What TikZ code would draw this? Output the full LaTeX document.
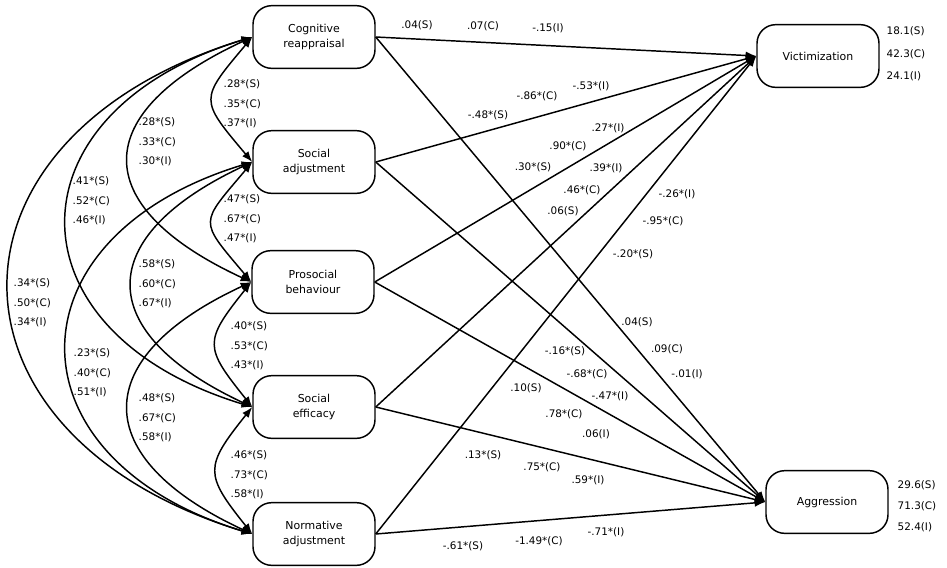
\documentclass[tikz,border=0pt]{standalone}
\usepackage{fontspec}
\setmainfont{DejaVu Sans}
\usetikzlibrary{arrows.meta}

\begin{document}
\begin{tikzpicture}[x=0.75pt, y=-0.75pt, >={Latex[length=8pt,width=6pt]}, line width=1.1pt]
				\tikzstyle{factor} = [draw=black, rounded corners=14pt, minimum width=91.5pt, minimum height=47pt, align=center, font=\fontsize{8.2}{11.3}\selectfont]
				\tikzstyle{invis} = [draw=none, inner sep=0pt, font=\fontsize{7.8}{14.6}\selectfont]
				
				\useasboundingbox (0,0) rectangle (947,568);
				
				\node[factor] 	at (314, 37) 	(cog) 	{Cognitive\\reappraisal};
				\node[factor] 	at (314, 162) 	(socadj) 	{Social\\adjustment};
				\node[factor] 	at (313, 282) 	(prosoc) 	{Prosocial\\behaviour};
				\node[factor] 	at (314, 407) 	(soceff) 	{Social\\efficacy};
				\node[factor] 	at (314, 534) 	(norm) 	{Normative\\adjustment};
				\node[factor] 	at (818, 56) 	(vict) 	{Victimization};
				\node[factor] 	at (827, 502) 	(aggr) 	{Aggression};
				
				% covariances
				\draw[<->] (cog.west) .. controls +(-53,63) and +(-53,-63) .. (socadj.west);
				\draw[<->] (socadj.west) .. controls +(-53,63) and +(-53,-63) .. (prosoc.west);
				\draw[<->] (prosoc.west) .. controls +(-48,60) and +(-48,-60) .. (soceff.west);
				\draw[<->] (soceff.west) .. controls +(-48,60) and +(-48,-60) .. (norm.west);
				\draw[<->] (cog.west) .. controls +(-164,76) and +(-164,-76) .. (prosoc.west);
				\draw[<->] (socadj.west) .. controls +(-160,75) and +(-160,-75) .. (soceff.west);
				\draw[<->] (prosoc.west) .. controls +(-164,76) and +(-164,-76) .. (norm.west);
				\draw[<->] (cog.west) .. controls +(-247,75) and +(-247,-75) .. (soceff.west);
				\draw[<->] (socadj.west) .. controls +(-247,75) and +(-247,-75) .. (norm.west);
				\draw[<->] (cog.west) .. controls +(-324,99) and +(-324,-99) .. (norm.west);
				
				\node[invis, anchor=west, align=left] 	at (223, 104) 	(c12) 	{.28*(S)\\.35*(C)\\.37*(I)};
				\node[invis, anchor=west, align=left] 	at (223, 219) 	(c23) 	{.47*(S)\\.67*(C)\\.47*(I)};
				\node[invis, anchor=west, align=left] 	at (230, 346) 	(c34) 	{.40*(S)\\.53*(C)\\.43*(I)};
				\node[invis, anchor=west, align=left] 	at (230, 475) 	(c45) 	{.46*(S)\\.73*(C)\\.58*(I)};
				\node[invis, anchor=west, align=left] 	at (138, 142) 	(c13) 	{.28*(S)\\.33*(C)\\.30*(I)};
				\node[invis, anchor=west, align=left] 	at (138, 284) 	(c24) 	{.58*(S)\\.60*(C)\\.67*(I)};
				\node[invis, anchor=west, align=left] 	at (138, 418) 	(c35) 	{.48*(S)\\.67*(C)\\.58*(I)};
				\node[invis, anchor=west, align=left] 	at (72, 201) 	(c14) 	{.41*(S)\\.52*(C)\\.46*(I)};
				\node[invis, anchor=west, align=left] 	at (73, 373) 	(c25) 	{.23*(S)\\.40*(C)\\.51*(I)};
				\node[invis, anchor=west, align=left] 	at (13, 303) 	(c15) 	{.34*(S)\\.50*(C)\\.34*(I)};
				
				% paths
				\path[->]
				(cog.east)	edge	(vict.west)
				(cog.east)	edge	(aggr.west)
				(socadj.east)	edge	(vict.west)
				(socadj.east)	edge	(aggr.west)
				(prosoc.east)	edge	(vict.west)
				(prosoc.east)	edge	(aggr.west)
				(soceff.east)	edge	(vict.west)
				(soceff.east)	edge	(aggr.west)
				(norm.east)	edge	(vict.west)
				(norm.east)	edge	(aggr.west);
				
				\node[invis]	at (417, 25)	(cv1)	{.04(S)};
				\node[invis]	at (483, 26)	(cv2)	{.07(C)};
				\node[invis]	at (548, 28)	(cv3)	{-.15(I)};
				\node[invis]	at (637, 322)	(ca1)	{.04(S)};
				\node[invis]	at (667, 349)	(ca2)	{.09(C)};
				\node[invis]	at (687, 374)	(ca3)	{-.01(I)};
				\node[invis]	at (488, 115)	(sv1)	{-.48*(S)};
				\node[invis]	at (537, 96)	(sv2)	{-.86*(C)};
				\node[invis]	at (591, 86)	(sv3)	{-.53*(I)};
				\node[invis]	at (565, 351)	(sa1)	{-.16*(S)};
				\node[invis]	at (587, 374)	(sa2)	{-.68*(C)};
				\node[invis]	at (610, 396)	(sa3)	{-.47*(I)};
				\node[invis]	at (533, 167)	(pv1)	{.30*(S)};
				\node[invis]	at (568, 146)	(pv2)	{.90*(C)};
				\node[invis]	at (608, 128)	(pv3)	{.27*(I)};
				\node[invis]	at (526, 388)	(pa1)	{.10(S)};
				\node[invis]	at (564, 414)	(pa2)	{.78*(C)};
				\node[invis]	at (596, 434)	(pa3)	{.06(I)};
				\node[invis]	at (563, 211)	(ev1)	{.06(S)};
				\node[invis]	at (582, 190)	(ev2)	{.46*(C)};
				\node[invis]	at (606, 168)	(ev3)	{.39*(I)};
				\node[invis]	at (483, 455)	(ea1)	{.13*(S)};
				\node[invis]	at (542, 467)	(ea2)	{.75*(C)};
				\node[invis]	at (588, 480)	(ea3)	{.59*(I)};
				\node[invis]	at (633, 254)	(nv1)	{-.20*(S)};
				\node[invis]	at (663, 221)	(nv2)	{-.95*(C)};
				\node[invis]	at (677, 194)	(nv3)	{-.26*(I)};
				\node[invis]	at (463, 546)	(na1)	{-.61*(S)};
				\node[invis]	at (539, 541)	(na2)	{-1.49*(C)};
				\node[invis]	at (606, 532)	(na3)	{-.71*(I)};
				
				% residuals
				\node[invis, anchor=west, align=left, font=\fontsize{7.8}{17}\selectfont]	at (886, 54)	(victres)	{18.1(S)\\42.3(C)\\24.1(I)};
				\node[invis, anchor=west, align=left, font=\fontsize{7.8}{15.8}\selectfont]	at (897, 506)	(aggrres)	{29.6(S)\\71.3(C)\\52.4(I)};
				\end{tikzpicture}
\end{document}
